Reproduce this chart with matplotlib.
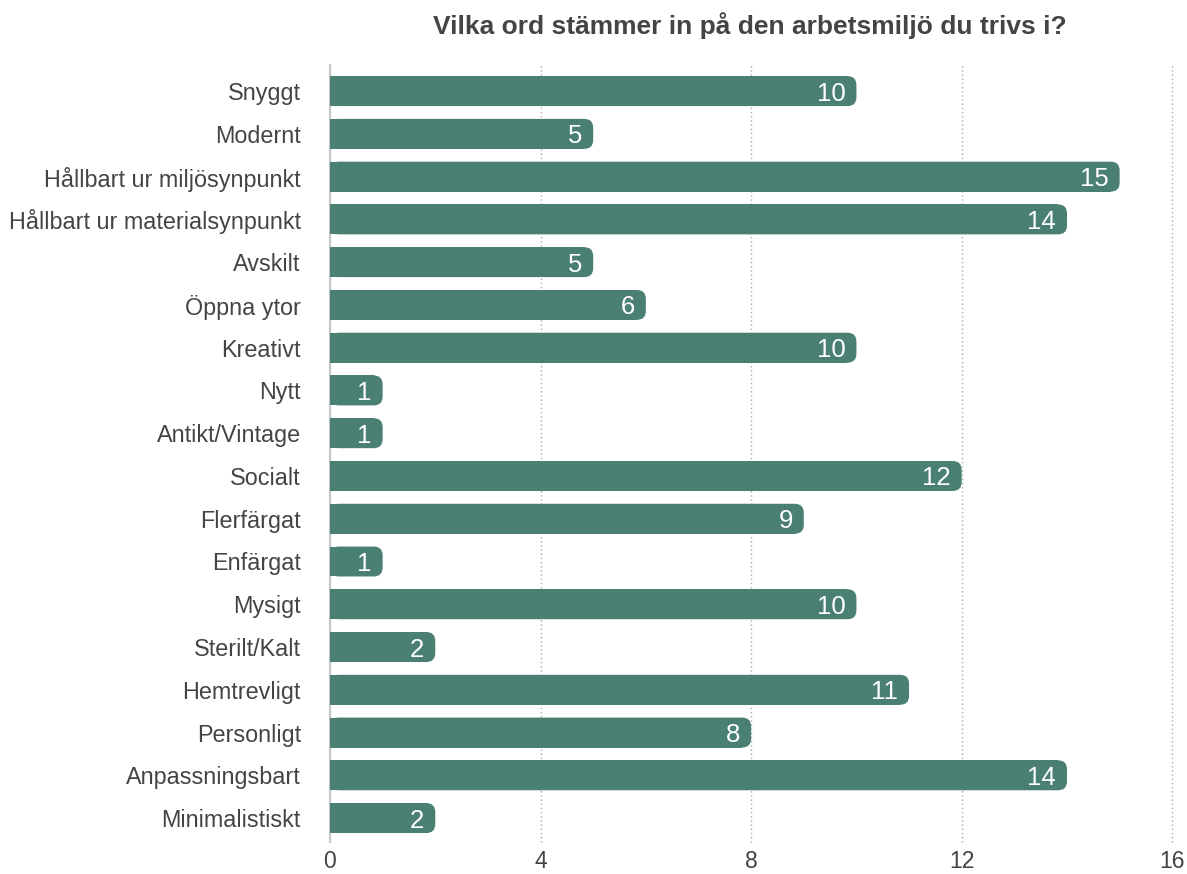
import matplotlib.pyplot as plt
from matplotlib.patches import FancyBboxPatch

categories = ['Snyggt', 'Modernt', 'Hållbart ur miljösynpunkt', 'Hållbart ur materialsynpunkt',
              'Avskilt', 'Öppna ytor', 'Kreativt', 'Nytt', 'Antikt/Vintage', 'Socialt',
              'Flerfärgat', 'Enfärgat', 'Mysigt', 'Sterilt/Kalt', 'Hemtrevligt',
              'Personligt', 'Anpassningsbart', 'Minimalistiskt']
counts = [10, 5, 15, 14, 5, 6, 10, 1, 1, 12, 9, 1, 10, 2, 11, 8, 14, 2]
xticks = [0, 4, 8, 12, 16]
title = 'Vilka ord stämmer in på den arbetsmiljö du trivs i?'

plt.rcParams['font.family'] = ['Liberation Sans', 'DejaVu Sans']
bar_color = '#4a7f74'
text_color = '#444444'

fig = plt.figure(figsize=(11.87, 8.74), dpi=100)
ax = fig.add_axes([0.278, 0.0366, 0.7096, 0.889])

ypos = list(range(len(categories)))
bars = ax.barh(ypos, counts, height=0.7, color=bar_color, zorder=3)

# round the right ends: shorten the square bar, overlay a rounded box
r = 0.17
for b in bars:
    x, y, w, h = b.get_x(), b.get_y(), b.get_width(), b.get_height()
    b.set_width(w - r)
    ax.add_patch(FancyBboxPatch((x, y), w, h,
                                boxstyle=f'round,pad=0,rounding_size={r}',
                                mutation_aspect=1.23, facecolor=bar_color,
                                edgecolor='none', zorder=3))

for yv, v in zip(ypos, counts):
    ax.annotate(str(v), (v, yv), xytext=(-8, 0), textcoords='offset points',
                ha='right', va='center_baseline', color='white', fontsize=18.5, zorder=4)

ax.set_xlim(0, 16)
ax.set_ylim(17.56, -0.61)
ax.set_xticks(xticks)
ax.set_yticks(ypos)
ax.set_yticklabels(categories)
ax.tick_params(axis='both', length=0, labelsize=16.8, colors=text_color)
ax.tick_params(axis='y', pad=21)
ax.tick_params(axis='x', pad=6, labelsize=16.5)

ax.grid(axis='x', linestyle=(0, (1, 2)), color='#aaaaaa', linewidth=1, zorder=0)
for gl in ax.get_xgridlines():
    gl.set_clip_on(False)
for s in ['top', 'right', 'bottom']:
    ax.spines[s].set_visible(False)
ax.spines['left'].set_color('#c8c8c8')
ax.spines['left'].set_linewidth(1.5)

fig.text(0.632, 0.971, title, ha='center', va='center', fontsize=19,
         fontweight='bold', color=text_color)

fig.savefig('out.png', dpi=100, facecolor='white')
